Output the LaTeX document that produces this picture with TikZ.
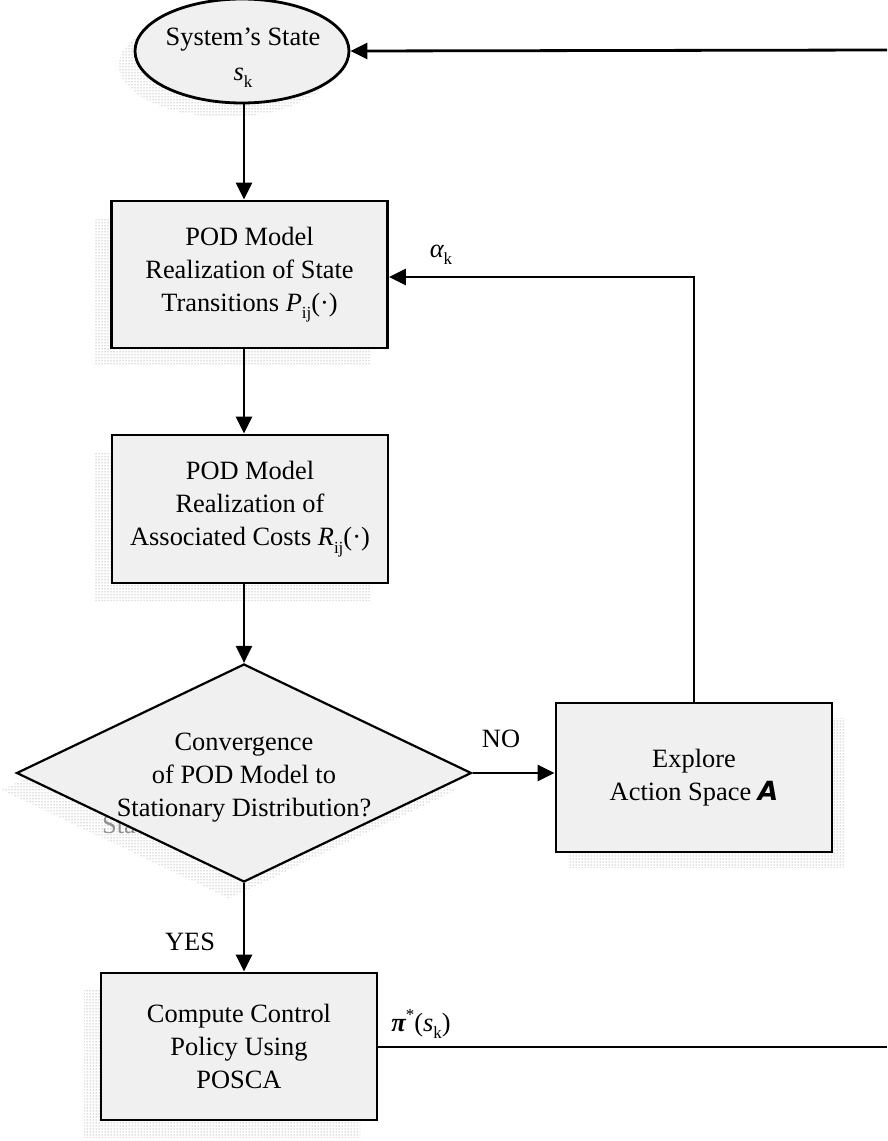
\documentclass[tikz,border=0pt]{standalone}
\usepackage{fontspec}
\setmainfont{Liberation Serif}
\newfontfamily\symfont{DejaVu Sans}
\usetikzlibrary{arrows.meta,shapes.geometric,shadows,patterns}

\definecolor{boxfill}{RGB}{240,240,240}
\definecolor{shadedot}{RGB}{120,120,120}

% lowered / raised small indices
\newcommand{\lowidx}[1]{\raisebox{-0.28em}{\fontsize{17}{17}\selectfont #1}}
\newcommand{\highidx}[1]{\raisebox{0.42em}{\fontsize{17}{17}\selectfont #1}}

\begin{document}
\begin{tikzpicture}[x=1pt,y=-1pt,
  every node/.style={font=\fontsize{26.4}{33}\selectfont, align=center, inner sep=0pt},
  dotshade/.style 2 args={general shadow={shadow xshift=#1, shadow yshift=#2,
      pattern=dots, pattern color=shadedot}},
  procbox/.style={rectangle, draw, line width=2.8pt, fill=boxfill,
      minimum width=276pt, minimum height=147pt},
  conn/.style={line width=2.8pt, -{Triangle[length=17pt,width=16pt]}},
  wire/.style={line width=2.8pt},
  lbl/.style={}]
\useasboundingbox (0,0) rectangle (887,1141);

% start state
\node[ellipse, draw, line width=2.8pt, fill=boxfill, minimum width=214pt,
      minimum height=104pt, dotshade={-16pt}{-14pt}] (state) at (242,51) {};
\node (statetxt) at (243,58) {System’s State\\[2pt]{\itshape s}\lowidx{k}};

% process boxes
\node[procbox, dotshade={-17pt}{-17pt}] (trans) at (249.5,274.5)
  {POD Model\\Realization of State\\Transitions {\itshape P}\lowidx{ij}(·)};
\node[procbox, minimum height=148pt, dotshade={-17pt}{-17pt}] (cost) at (250,509)
  {POD Model\\Realization of\\Associated Costs {\itshape R}\lowidx{ij}(·)};

% decision, with the start of its shadowed text peeking out
\node[text=gray!85, anchor=base west] (ghost) at (102,833) {Sta};
\node[diamond, draw, line width=2.2pt, fill=boxfill, minimum width=455pt,
      minimum height=218pt, dotshade={-15pt}{-17pt}] (dec) at (244,773) {};
\node (dectxt) at (244,778)
  {Convergence\\of POD Model to\\Stationary Distribution?};

\node[procbox, minimum height=149pt, dotshade={12pt}{-15pt}] (explore) at (694,777.5)
  {Explore\\Action Space {\symfont\bfseries\itshape A}};

\node[procbox, dotshade={-17pt}{-17pt}] (policy) at (239,1046.5)
  {Compute Control\\Policy Using\\POSCA};

% free ends of the loop
\coordinate (inR) at (887,50);
\coordinate (outR) at (887,1047);

% connectors
\draw[conn] (inR) -- (state.east);
\draw[conn] (dec.north |- state.south) -- (dec.north |- trans.north);
\draw[conn] (dec.north |- trans.south) -- (dec.north |- cost.north);
\draw[conn] (dec.north |- cost.south) -- (dec.north);
\draw[conn] (dec.east) -- (dec.east -| explore.west);
\draw[conn] (explore.north) -- ([yshift=-2.5pt]explore.north |- trans.east) -- ([yshift=-2.5pt]trans.east);
\draw[conn] (dec.south) -- (dec.south |- policy.north);
\draw[wire] (policy.east |- outR) -- (outR);

% labels
\node[lbl] (no) at (501,739) {NO};
\node[lbl] (yes) at (190,942) {YES};
\node[lbl] (ak) at (441,255) {{\itshape α}\lowidx{k}};
\node[lbl] (pi) at (421,1024) {{\bfseries\itshape π}\highidx{*}({\itshape s}\lowidx{k})};
\end{tikzpicture}
\end{document}
